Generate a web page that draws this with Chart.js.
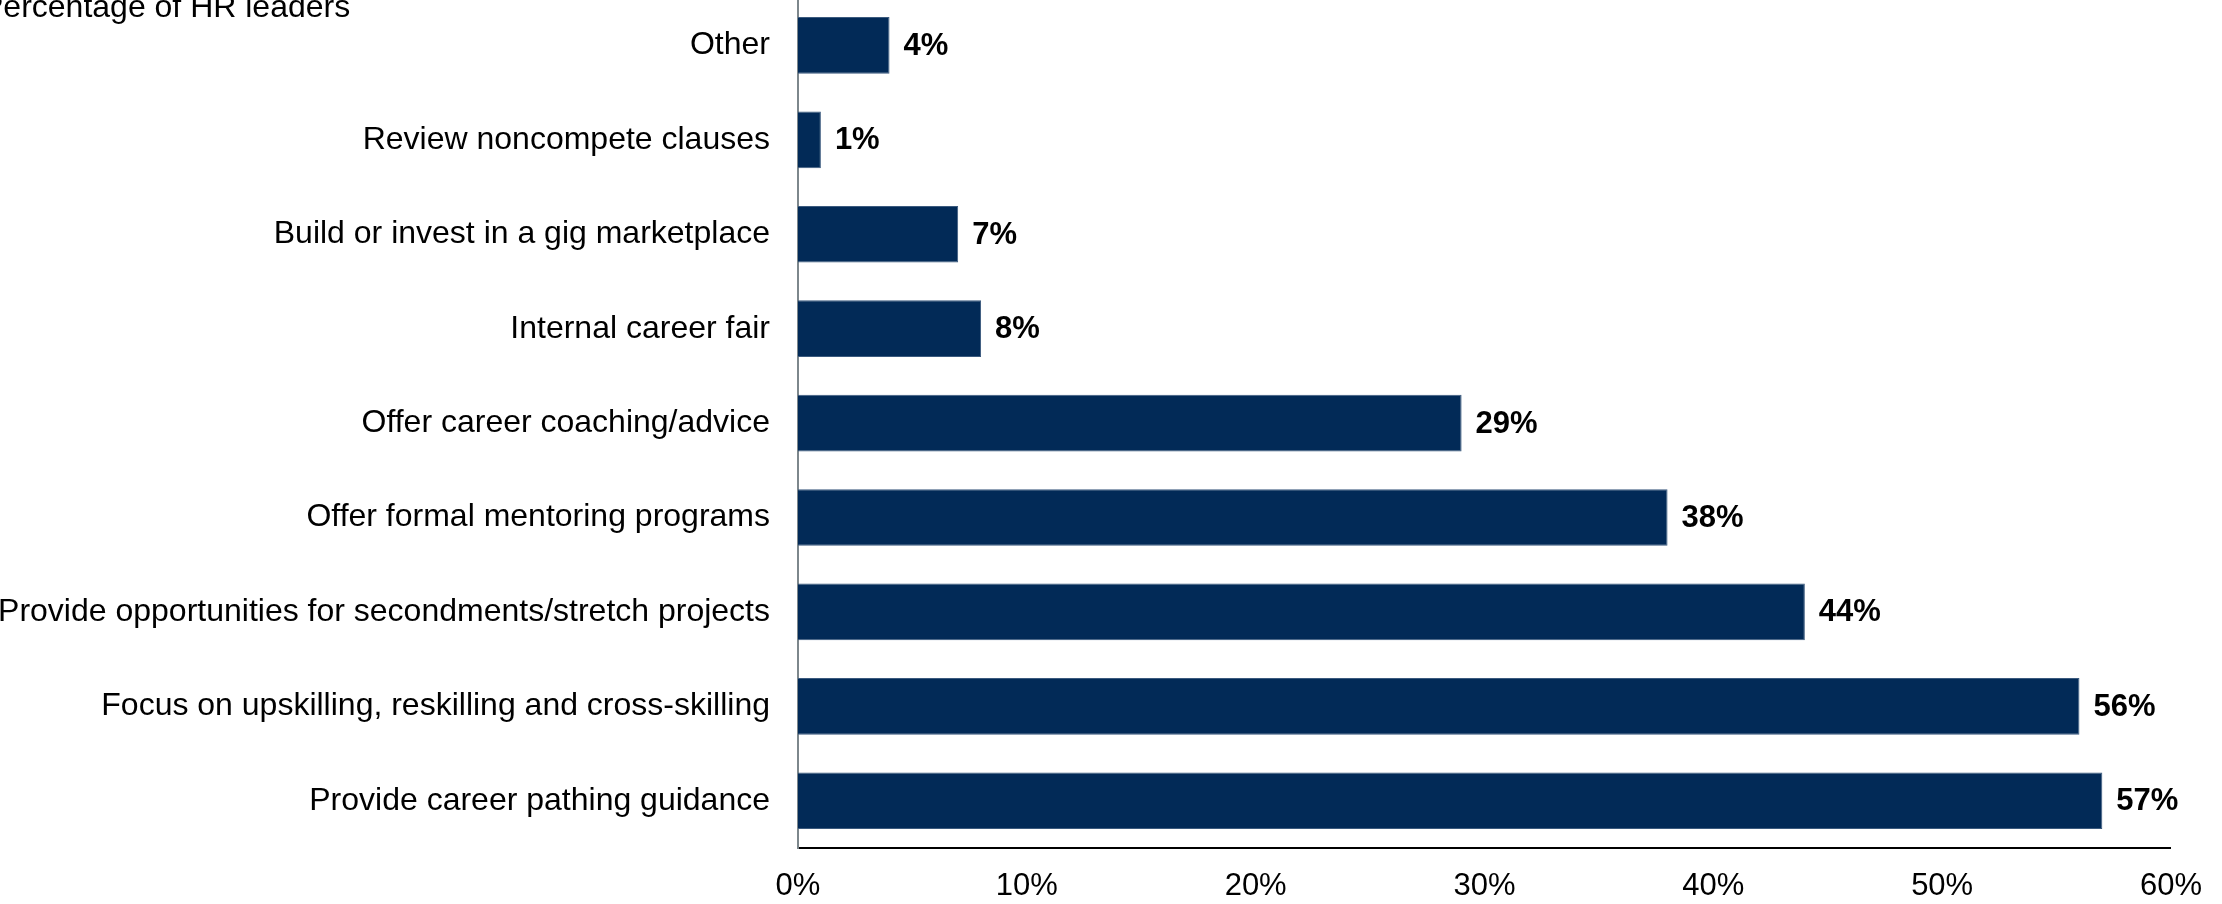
<!DOCTYPE html>
<html>
<head>
<meta charset="utf-8">
<script src="https://cdn.jsdelivr.net/npm/chart.js@4.4.1/dist/chart.umd.min.js"></script>
<style>
    html, body { margin: 0; padding: 0; background: #fff; overflow: hidden; }
    .chart { position: relative; width: 2222px; height: 904px; overflow: hidden; }
    .chart canvas { position: absolute; left: 0; top: -49px; }
</style>
</head>
<body>
<div class="chart"><canvas id="career-actions" width="2222" height="953"></canvas></div>
<script>
// Data
const categories = [
    "Other",
    "Review noncompete clauses",
    "Build or invest in a gig marketplace",
    "Internal career fair",
    "Offer career coaching/advice",
    "Offer formal mentoring programs",
    "Provide opportunities for secondments/stretch projects",
    "Focus on upskilling, reskilling and cross-skilling",
    "Provide career pathing guidance"
];
const shares = [4, 1, 7, 8, 29, 38, 44, 56, 57];
const axisTicks = [0, 10, 20, 30, 40, 50, 60];
const unitLabel = "Percentage of HR leaders";

// Style
const fontFamily = "'Liberation Sans', Arial, sans-serif";
const barColor = "#022a57";
const canvasShift = 49; // canvas sits this far above the page top

Chart.defaults.font.family = fontFamily;
Chart.defaults.color = "#000";

// Plugins
const valueLabels = {
    id: "valueLabels",
    afterDatasetsDraw(chart) {
        const ctx = chart.ctx;
        const meta = chart.getDatasetMeta(0);
        ctx.save();
        ctx.font = "bold 31px " + fontFamily;
        ctx.fillStyle = "#000";
        ctx.textAlign = "left";
        ctx.textBaseline = "middle";
        meta.data.forEach((bar, i) => {
            ctx.fillText(shares[i] + "%", bar.x + 14, bar.y + 1);
        });
        ctx.restore();
    }
};

const unitTitle = {
    id: "unitTitle",
    afterDraw(chart) {
        const ctx = chart.ctx;
        ctx.save();
        ctx.font = "32px " + fontFamily;
        ctx.fillStyle = "#000";
        ctx.textAlign = "left";
        ctx.textBaseline = "alphabetic";
        ctx.fillText(unitLabel, -18, canvasShift + 17);
        ctx.restore();
    }
};

// Chart
new Chart(document.querySelector("#career-actions"), {
    type: "bar",
    data: {
        labels: categories,
        datasets: [{
            data: shares,
            backgroundColor: barColor,
            borderColor: "#3b5a7e",
            borderWidth: 1,
            categoryPercentage: 1,
            barPercentage: 0.6
        }]
    },
    options: {
        indexAxis: "y",
        responsive: false,
        animation: false,
        devicePixelRatio: 1,
        layout: { padding: 0 },
        plugins: {
            legend: { display: false },
            tooltip: { enabled: false }
        },
        scales: {
            x: {
                min: 0,
                max: 60,
                afterBuildTicks: (scale) => {
                    scale.ticks = axisTicks.map(v => ({ value: v }));
                },
                afterFit: (scale) => { scale.height = 56; },
                grid: { display: false, drawTicks: false },
                border: { display: true, color: "#000", width: 2 },
                ticks: {
                    padding: 20,
                    maxRotation: 0,
                    font: { size: 31 },
                    callback: (v) => v + "%"
                }
            },
            y: {
                afterFit: (scale) => { scale.width = 798; },
                grid: { display: false, drawTicks: false },
                border: { display: true, color: "#7d878c", width: 2 },
                ticks: {
                    padding: 28,
                    font: { size: 32 },
                    autoSkip: false
                }
            }
        }
    },
    plugins: [valueLabels, unitTitle]
});
</script>
</body>
</html>
